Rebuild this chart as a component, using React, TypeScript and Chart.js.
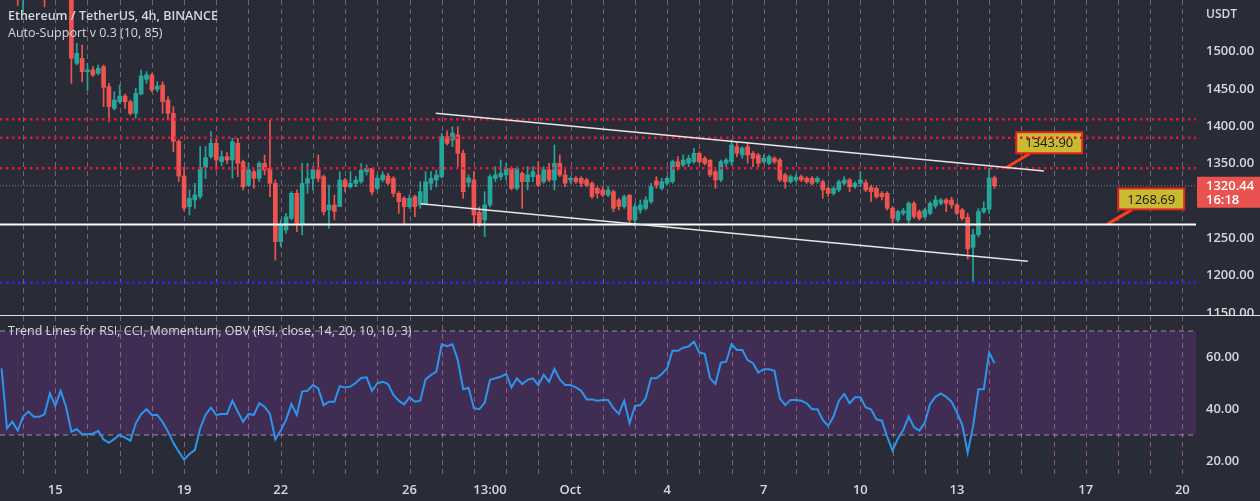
import React, { useEffect, useRef } from "react";
import { Chart, registerables } from "chart.js";

Chart.register(...registerables);

// ---------------- data (4h candles, index 0 = Sep 14 00:00) ----------------
const FIRST_INDEX = -4;

const opens = [
  1720, 1712, 1600, 1610,
  1590, 1605, 1615, 1605, 1610, 1600,
  1640, 1618, 1645, 1600, 1484.4, 1491,
  1473.2, 1475.5, 1471, 1479.9, 1453.1, 1424.1,
  1433, 1440.6, 1433, 1417.4, 1443.3, 1463,
  1468.8, 1449.6, 1455.4, 1435.3, 1417.4, 1380,
  1333.5, 1292.5, 1301.4, 1306, 1345, 1359.4,
  1377.3, 1352.7, 1359.4, 1355, 1377.3, 1352.7,
  1321.5, 1339.3, 1330.4, 1350.5, 1343.8, 1323.7,
  1245.6, 1261.2, 1276.8, 1310.3, 1270.1, 1323.7,
  1330, 1341.6, 1332.6, 1288, 1294.7, 1292.5,
  1328.2, 1319.2, 1323.7, 1326, 1339.3, 1343.8,
  1317, 1328.2, 1333.5, 1330.4, 1310.3, 1303.6,
  1292.5, 1305.8, 1294.7, 1296.9, 1323.7, 1328.2,
  1332.6, 1386.2, 1381.7, 1388.4, 1363.9, 1325,
  1328.2, 1285, 1274.6, 1294.7, 1330.4, 1332.6,
  1334.9, 1343.8, 1317, 1337.1, 1325.9, 1332.6,
  1334.9, 1325.9, 1341.6, 1328.2, 1350.5, 1334.9,
  1328.2, 1330.4, 1330.4, 1328.2, 1323.7, 1317,
  1314.8, 1308.1, 1312.5, 1301.4, 1292.5, 1308.1,
  1274.6, 1288, 1290.2, 1299.1, 1327, 1317,
  1323.7, 1325.9, 1352.7, 1348.3, 1350.5, 1352.7,
  1363.9, 1357.2, 1354.9, 1339.3, 1328.2, 1350.5,
  1352.7, 1372.8, 1361.6, 1372.8, 1363.9, 1361.6,
  1352.7, 1350.5, 1357.2, 1354.9, 1334.9, 1325.9,
  1328.2, 1332.6, 1330.4, 1330.4, 1325.9, 1325.9,
  1317, 1310.3, 1314.8, 1323.7, 1328.2, 1319.2,
  1323.7, 1324.6, 1318.4, 1317, 1310.3, 1310.3,
  1290.2, 1274.6, 1283.5, 1274.6, 1296.9, 1285.8,
  1279.1, 1283.5, 1293.4, 1296.9, 1301.4, 1301.4,
  1294.7, 1288, 1278, 1238, 1255, 1285.8,
  1289, 1331,
];

const highs = [
  1735, 1716, 1625, 1618,
  1612, 1625, 1622, 1618, 1618, 1650,
  1645, 1660, 1650, 1610, 1511.2, 1508.9,
  1484.4, 1479.9, 1482.2, 1482.2, 1457.6, 1446.4,
  1455.4, 1443.3, 1435.3, 1450.9, 1475.5, 1473.2,
  1471, 1459.8, 1459.8, 1439.7, 1426.4, 1382,
  1345, 1314.8, 1323.7, 1373, 1373, 1392.9,
  1384, 1367, 1365, 1384, 1384, 1354.9,
  1350.5, 1341.6, 1352.7, 1361.6, 1408.5, 1328.2,
  1274.6, 1283.5, 1312.5, 1314.8, 1350.5, 1350.5,
  1346, 1361.6, 1334.9, 1321.5, 1308.1, 1339.3,
  1330.4, 1339.3, 1332.6, 1350.5, 1348.3, 1343.8,
  1334.9, 1339.3, 1337.1, 1332.6, 1312.5, 1305.8,
  1308.1, 1308.1, 1325.9, 1339.3, 1339.3, 1341.6,
  1390.7, 1394, 1399.6, 1399.6, 1368.3, 1335,
  1339.3, 1292, 1312.5, 1335, 1346, 1354.9,
  1350.5, 1346, 1346, 1339.3, 1346, 1346,
  1352.7, 1346, 1350.5, 1375, 1361.6, 1341.6,
  1332.6, 1332.6, 1332.6, 1330.4, 1325.9, 1319.2,
  1319.2, 1319.2, 1314.8, 1303.6, 1308.1, 1308.1,
  1296.9, 1301.4, 1305.8, 1323.7, 1332.6, 1330.4,
  1332.6, 1354.9, 1359.4, 1361.6, 1361.6, 1370.6,
  1366.1, 1359.4, 1354.9, 1341.6, 1354.9, 1357.2,
  1381.7, 1379.5, 1372.8, 1377.3, 1366.1, 1363.9,
  1361.6, 1361.6, 1359.4, 1357.2, 1337.1, 1334.9,
  1334.9, 1334.9, 1332.6, 1332.6, 1332.6, 1328,
  1319, 1319, 1328.2, 1332.6, 1330.4, 1326,
  1339.3, 1328.2, 1321.5, 1319.2, 1312.5, 1312.5,
  1292.5, 1288, 1290.2, 1299.1, 1299.1, 1288,
  1290.2, 1299.1, 1306.8, 1303.6, 1303.6, 1305,
  1296.9, 1290.2, 1283.5, 1262, 1290, 1299.1,
  1343.9, 1333.5,
];

const lows = [
  1700, 1590, 1575, 1562,
  1553, 1595, 1596, 1592, 1560, 1595,
  1600, 1612, 1590, 1457.6, 1482.2, 1459.8,
  1448.7, 1466.5, 1468.8, 1426.4, 1406.3, 1421.9,
  1430.8, 1424.1, 1415.2, 1410.7, 1442, 1457.6,
  1446.4, 1446.4, 1417.4, 1408.5, 1366.1, 1326,
  1287, 1281.3, 1290.2, 1303, 1330, 1357.2,
  1341.6, 1347, 1350, 1330.4, 1332.6, 1314.8,
  1319.2, 1317, 1326, 1334.9, 1305.8, 1221,
  1238.9, 1256.7, 1274.6, 1259, 1254.5, 1310.3,
  1314.8, 1326, 1281.3, 1263.4, 1274.6, 1292.5,
  1312.5, 1317, 1319.2, 1323.7, 1334.9, 1308.1,
  1314.8, 1326, 1321.5, 1305.8, 1283.5, 1270.1,
  1290.2, 1279, 1290.2, 1294.7, 1314.8, 1319,
  1330.4, 1375, 1372.8, 1346, 1303.6, 1319,
  1267.9, 1266, 1252.3, 1292, 1326, 1328.2,
  1328.2, 1314.8, 1314.8, 1290.2, 1314.8, 1326,
  1319.2, 1323.7, 1325.9, 1314.8, 1332.6, 1319.2,
  1323.7, 1323.7, 1319.2, 1319.2, 1303.6, 1303.6,
  1305.8, 1305.8, 1285.8, 1288, 1290.2, 1270.1,
  1265.7, 1283.5, 1288, 1296.9, 1317, 1314.8,
  1321.5, 1323.7, 1341.6, 1346, 1346, 1350.5,
  1350.5, 1348.3, 1332.6, 1317, 1325.9, 1346,
  1348.3, 1359.4, 1357.2, 1350.5, 1346, 1346,
  1350.5, 1348.3, 1350, 1325.9, 1317, 1323.7,
  1326, 1326, 1323.7, 1321.5, 1323.7, 1303.6,
  1306, 1308, 1312.5, 1321.5, 1312.5, 1317,
  1319.2, 1312.5, 1299.1, 1303.6, 1301.4, 1288,
  1270.1, 1272.4, 1281.3, 1270.1, 1276.8, 1274.6,
  1276.8, 1281.3, 1290.2, 1294.7, 1285.8, 1290.2,
  1281.3, 1274.6, 1222, 1190, 1252, 1283.5,
  1283.5, 1317,
];

const closes = [
  1712, 1600, 1610, 1590,
  1605, 1615, 1605, 1610, 1600, 1640,
  1618, 1645, 1600, 1491.1, 1497.8, 1473.2,
  1475.5, 1468.8, 1477.7, 1452.2, 1426.4, 1435.3,
  1440.6, 1433, 1417.4, 1444.2, 1467.4, 1468.8,
  1448.7, 1454, 1433, 1417.4, 1380, 1333.5,
  1290.6, 1303.6, 1308.1, 1345, 1358, 1377.3,
  1355, 1359.4, 1355, 1379.5, 1350.5, 1319.2,
  1342, 1330.4, 1350.5, 1341.6, 1323.7, 1245.6,
  1267.9, 1279, 1310.3, 1270.1, 1323.7, 1330,
  1342, 1330.4, 1285.8, 1294.7, 1286, 1328.2,
  1319.2, 1323.7, 1328.2, 1341.6, 1343.8, 1312,
  1330.4, 1334.9, 1323.7, 1310.3, 1299.1, 1292.5,
  1303.6, 1292.5, 1312.5, 1325.9, 1330.4, 1334.9,
  1386.2, 1377.3, 1390.7, 1363.9, 1312.5, 1331,
  1281.3, 1270, 1294.7, 1332.6, 1334.9, 1337.1,
  1343.8, 1317, 1343.8, 1325.9, 1334.9, 1339.3,
  1321.5, 1341.6, 1328.2, 1350.5, 1334.9, 1323.7,
  1330.4, 1325.9, 1323.7, 1321.5, 1305.8, 1310.3,
  1308.1, 1314.8, 1290.2, 1292.5, 1305.8, 1274.6,
  1292.5, 1294.7, 1301.4, 1319.2, 1321.5, 1325.9,
  1330.4, 1352.7, 1346, 1354.9, 1357.2, 1363.9,
  1352.7, 1350.5, 1334.9, 1328.2, 1352.7, 1354.9,
  1375, 1363.9, 1370.6, 1361.6, 1357.2, 1350.5,
  1357.2, 1359.4, 1352.7, 1328.2, 1325.9, 1332.6,
  1332, 1328.2, 1325.9, 1323.7, 1330.4, 1314.8,
  1310.3, 1317, 1325.9, 1328.2, 1319.2, 1323.7,
  1328.2, 1314.8, 1312.5, 1305.8, 1305.8, 1290.2,
  1276.8, 1285.8, 1287.1, 1296.9, 1279.1, 1276.8,
  1288, 1296.9, 1301.4, 1301.4, 1296.9, 1294.7,
  1283.5, 1276.8, 1236, 1255, 1286, 1290.2,
  1331, 1320.44,
];

const rsiValues = [
  55.6, 32.6, 35.1, 31.7,
  37.1, 39, 37, 37, 38, 46,
  41.2, 47, 40.9, 31.3, 32.2, 30.3,
  30.3, 30.5, 31.6, 28.3, 27, 28.5,
  30, 29, 27.8, 34.5, 38, 39.9,
  37.7, 37.7, 35, 31.3, 27, 23.6,
  20.6, 22.7, 24.2, 32.6, 37.7, 40.5,
  37.7, 38.1, 38.1, 43.2, 39, 35.1,
  38.1, 37.7, 42.2, 40.9, 38.1, 28.3,
  31.7, 35.8, 41.9, 37.7, 46.7, 47,
  49.2, 47.9, 41.5, 42.8, 42.8, 48.8,
  48.3, 48.6, 50.1, 51.9, 52.2, 47,
  49.9, 50.5, 49.6, 45.4, 43.2, 41.8,
  44.5, 42.8, 43.2, 51.4, 53.1, 54.4,
  64.9, 64.2, 64.9, 58.8, 47.6, 48.2,
  40.3, 39.9, 42.4, 51.2, 51.8, 52.4,
  53.5, 48.3, 51.8, 49.6, 51.2, 51.8,
  49.2, 53.1, 50.5, 55.4, 51.4, 49.2,
  49.2, 48.3, 47, 43.7, 43.7, 43.2,
  43.5, 43.5, 40.3, 38.1, 43.2, 34.5,
  41.2, 41.5, 44.1, 51.8, 51.8, 53.5,
  55.6, 62.4, 62.4, 63.6, 64, 65.9,
  61.7, 61.2, 51.8, 49.6, 57.8, 58.2,
  64.9, 62.7, 62.7, 58.8, 57.6, 54,
  55.3, 55.3, 54.7, 44.1, 41.5, 43.5,
  43.5, 43.2, 42.2, 39.9, 39.9, 35.8,
  33.5, 37.1, 43.2, 45.8, 42.2, 44.5,
  44.5, 40.6, 39.9, 36, 35.5, 29.4,
  24, 28.7, 31.9, 37.1, 33, 31.7,
  34.7, 41.9, 44.7, 46, 44.7, 42.8,
  38.6, 33.8, 23.2, 33.2, 47.6, 47.6,
  61.7, 57.6,
];

const priceTicks = [1150, 1200, 1250, 1300, 1350, 1400, 1450, 1500];
const rsiTicks = [20, 40, 60];
const dayTickIndex = [
  0, 6, 12, 18, 24, 30, 36, 42, 48, 54, 60, 66, 72, 78, 84, 90, 96, 102, 108,
  114, 120, 126, 132, 138, 144, 150, 156, 162, 168, 174, 180, 186, 192, 198,
  204, 210, 216,
];
const xLabelIndex = [6, 30, 48, 72, 87, 102, 120, 138, 156, 174, 198, 216];
const xLabelText = ["15", "19", "22", "26", "13:00", "Oct", "4", "7", "10", "13", "17", "20"];

const resistanceLevels = [1409.5, 1384.8, 1343.9];
const supportLevel = 1268.69;
const lowerLevel = 1190.6;
const lastPrice = 1320.44;
const countdownText = "16:18";
const upperTrendX = [76.9, 190.2];
const upperTrendY = [1417.5, 1340.2];
const lowerTrendX = [74.1, 187.2];
const lowerTrendY = [1296.4, 1219.3];
const calloutIndex = [183, 202];
const calloutPrice = [1343.9, 1268.69];
const calloutText = ["1343.90", "1268.69"];
const rsiUpperBand = 70;
const rsiLowerBand = 30;

// ---------------- view settings ----------------
const X_MIN = -4.3;
const X_MAX = 218.54;
const Y_MIN = 1147.35;
const Y_MAX = 1569.2;
const RSI_MIN = 13.85;
const RSI_MAX = 75.77;

const BG = "#292c37";
const TEXT = "#d6d8de";
const UP = "#26a69a";
const DOWN = "#ef5350";
const GRID_MAIN = "rgba(140,128,142,0.7)";
const GRID_RSI = "rgba(190,118,150,0.65)";
const FONT = '"Open Sans", "Noto Sans", sans-serif';

const span = (v: number) => [
  { x: X_MIN, y: v },
  { x: X_MAX, y: v },
];

// vertical dashed day-grid drawn through the x scale
const dayGridPlugin = (color: string) => ({
  id: "dayGrid",
  beforeDatasetsDraw(chart: any) {
    const { ctx, chartArea, scales } = chart;
    ctx.save();
    ctx.strokeStyle = color;
    ctx.lineWidth = 1;
    ctx.setLineDash([5, 4]);
    dayTickIndex.forEach((v) => {
      const px = Math.round(scales.x.getPixelForValue(v)) + 0.5;
      if (px < chartArea.left || px > chartArea.right) return;
      ctx.beginPath();
      ctx.moveTo(px, chartArea.top);
      ctx.lineTo(px, chartArea.bottom);
      ctx.stroke();
    });
    ctx.restore();
  },
});

function mainConfig(): any {
  const candleColors = opens.map((o, i) => (closes[i] >= o ? UP : DOWN));
  const bodies = opens.map((o, i) => ({ x: FIRST_INDEX + i, y: [o, closes[i]] }));
  const wicks = lows.map((l, i) => ({ x: FIRST_INDEX + i, y: [l, highs[i]] }));

  const levelSet = (v: number, color: string, width: number, dash: number[], order: number) => ({
    type: "line",
    data: span(v),
    borderColor: color,
    borderWidth: width,
    borderDash: dash,
    pointRadius: 0,
    fill: false,
    order,
  });

  const calloutPlugin = {
    id: "callouts",
    beforeDatasetsDraw(chart: any) {
      const { ctx, scales } = chart;
      calloutIndex.forEach((idx, k) => {
        const ax = scales.x.getPixelForValue(idx);
        const ay = scales.y.getPixelForValue(calloutPrice[k]);
        const bw = 66;
        const bh = 21;
        const bx = ax + 11;
        const by = ay - 36;
        ctx.save();
        ctx.strokeStyle = "#ff3d1f";
        ctx.lineWidth = 3;
        ctx.beginPath();
        ctx.moveTo(ax, ay);
        ctx.lineTo(bx + 14, by + bh);
        ctx.stroke();
        ctx.fillStyle = "#c9ba32";
        ctx.fillRect(bx, by, bw, bh);
        ctx.strokeStyle = "#e3241c";
        ctx.lineWidth = 2;
        ctx.strokeRect(bx, by, bw, bh);
        ctx.fillStyle = "#141414";
        ctx.font = `13px ${FONT}`;
        ctx.textAlign = "center";
        ctx.textBaseline = "middle";
        ctx.fillText(calloutText[k], bx + bw / 2, by + bh / 2 + 1);
        ctx.restore();
      });
    },
    afterDraw(chart: any) {
      const { ctx, scales, chartArea } = chart;
      const yp = scales.y.getPixelForValue(lastPrice);
      ctx.save();
      ctx.fillStyle = "#ea5250";
      ctx.fillRect(chartArea.right + 1, yp - 9, chart.width - chartArea.right - 1, 31);
      ctx.fillStyle = "#ffffff";
      ctx.font = `600 13px ${FONT}`;
      ctx.textAlign = "left";
      ctx.textBaseline = "middle";
      ctx.fillText(lastPrice.toFixed(2), chartArea.right + 10, yp + 0.5);
      ctx.fillText(countdownText, chartArea.right + 10, yp + 14.5);
      ctx.restore();
    },
  };

  return {
    type: "bar",
    data: {
      datasets: [
        {
          type: "line",
          data: upperTrendX.map((x, i) => ({ x, y: upperTrendY[i] })),
          borderColor: "#e6e6e6",
          borderWidth: 1.5,
          pointRadius: 0,
          order: 0,
        },
        {
          type: "line",
          data: lowerTrendX.map((x, i) => ({ x, y: lowerTrendY[i] })),
          borderColor: "#e6e6e6",
          borderWidth: 1.5,
          pointRadius: 0,
          order: 0,
        },
        ...resistanceLevels.map((v) => levelSet(v, "#e0163f", 2.5, [2.5, 3.5], 1)),
        levelSet(supportLevel, "#ffffff", 2, [], 1),
        levelSet(lowerLevel, "#2626f2", 2.5, [2.5, 3.5], 1),
        levelSet(lastPrice, "rgba(200,185,200,0.6)", 1, [1, 2], 2),
        {
          type: "bar",
          data: bodies,
          backgroundColor: candleColors,
          barThickness: 4,
          minBarLength: 1,
          grouped: false,
          borderWidth: 0,
          order: 8,
        },
        {
          type: "bar",
          data: wicks,
          backgroundColor: candleColors,
          barThickness: 1,
          grouped: false,
          borderWidth: 0,
          order: 9,
        },
      ],
    },
    options: {
      responsive: false,
      maintainAspectRatio: false,
      animation: false,
      devicePixelRatio: 1,
      events: [],
      layout: { padding: 0 },
      plugins: { legend: { display: false }, tooltip: { enabled: false } },
      scales: {
        x: {
          type: "linear",
          min: X_MIN,
          max: X_MAX,
          offset: false,
          afterBuildTicks: (s: any) => {
            s.ticks = dayTickIndex.map((v) => ({ value: v }));
          },
          ticks: { display: false },
          grid: { display: false, drawTicks: false, offset: false },
          border: { display: false },
          afterFit: (s: any) => {
            s.height = 0;
            s.paddingLeft = 0;
            s.paddingRight = 0;
          },
        },
        y: {
          type: "linear",
          position: "right",
          min: Y_MIN,
          max: Y_MAX,
          afterBuildTicks: (s: any) => {
            s.ticks = priceTicks.map((v) => ({ value: v }));
          },
          ticks: {
            color: TEXT,
            font: { family: FONT, size: 13, weight: "600" },
            padding: 10,
            autoSkip: false,
            callback: (v: any) => Number(v).toFixed(2),
          },
          grid: { display: false, drawTicks: false },
          border: { display: false },
          afterFit: (s: any) => {
            s.width = 64;
            s.paddingTop = 0;
            s.paddingBottom = 0;
          },
        },
      },
    },
    plugins: [dayGridPlugin(GRID_MAIN), calloutPlugin],
  };
}

function rsiConfig(): any {
  const rsiXTicks = [...dayTickIndex, 87].sort((a, b) => a - b);
  return {
    type: "line",
    data: {
      datasets: [
        {
          data: rsiValues.map((v, i) => ({ x: FIRST_INDEX + i, y: v })),
          borderColor: "#2d95ec",
          borderWidth: 2,
          pointRadius: 0,
          tension: 0,
          fill: false,
          order: 0,
        },
        {
          data: span(rsiUpperBand),
          borderColor: "rgba(190,190,200,0.7)",
          borderWidth: 1,
          borderDash: [5, 4],
          pointRadius: 0,
          fill: false,
          order: 1,
        },
        {
          data: span(rsiLowerBand),
          borderColor: "rgba(190,190,200,0.7)",
          borderWidth: 1,
          borderDash: [5, 4],
          pointRadius: 0,
          fill: "-1",
          backgroundColor: "rgba(128,52,170,0.26)",
          order: 2,
        },
      ],
    },
    options: {
      responsive: false,
      maintainAspectRatio: false,
      animation: false,
      devicePixelRatio: 1,
      events: [],
      layout: { padding: 0 },
      plugins: {
        legend: { display: false },
        tooltip: { enabled: false },
        filler: { drawTime: "beforeDraw" },
      },
      scales: {
        x: {
          type: "linear",
          min: X_MIN,
          max: X_MAX,
          offset: false,
          afterBuildTicks: (s: any) => {
            s.ticks = rsiXTicks.map((v) => ({ value: v }));
          },
          ticks: {
            color: TEXT,
            font: { family: FONT, size: 13, weight: "600" },
            padding: 5,
            autoSkip: false,
            maxRotation: 0,
            callback: (v: any) => {
              const k = xLabelIndex.indexOf(Number(v));
              return k >= 0 ? xLabelText[k] : "";
            },
          },
          grid: { display: false, drawTicks: false, offset: false },
          border: { display: false },
          afterFit: (s: any) => {
            s.height = 24;
            s.paddingLeft = 0;
            s.paddingRight = 0;
          },
        },
        y: {
          type: "linear",
          position: "right",
          min: RSI_MIN,
          max: RSI_MAX,
          afterBuildTicks: (s: any) => {
            s.ticks = rsiTicks.map((v) => ({ value: v }));
          },
          ticks: {
            color: TEXT,
            font: { family: FONT, size: 13, weight: "600" },
            padding: 10,
            autoSkip: false,
            callback: (v: any) => Number(v).toFixed(2),
          },
          grid: { display: false, drawTicks: false },
          border: { display: false },
          afterFit: (s: any) => {
            s.width = 64;
            s.paddingTop = 0;
            s.paddingBottom = 0;
          },
        },
      },
    },
    plugins: [dayGridPlugin(GRID_RSI)],
  };
}

export default function App() {
  const mainRef = useRef<HTMLCanvasElement>(null);
  const rsiRef = useRef<HTMLCanvasElement>(null);

  useEffect(() => {
    document.body.style.margin = "0";
    document.body.style.background = BG;
    const main = new Chart(mainRef.current as HTMLCanvasElement, mainConfig());
    const rsi = new Chart(rsiRef.current as HTMLCanvasElement, rsiConfig());
    return () => {
      main.destroy();
      rsi.destroy();
    };
  }, []);

  const textBase: React.CSSProperties = {
    position: "absolute",
    color: TEXT,
    fontFamily: FONT,
    whiteSpace: "nowrap",
    lineHeight: "16px",
  };

  return (
    <div style={{ position: "relative", width: 1260, height: 501, background: BG, overflow: "hidden" }}>
      <canvas
        ref={mainRef}
        width={1260}
        height={315}
        style={{ position: "absolute", left: 0, top: 0, width: 1260, height: 315 }}
      />
      <div style={{ position: "absolute", left: 0, top: 315, width: 1260, height: 1, background: "rgba(255,255,255,0.85)" }} />
      <canvas
        ref={rsiRef}
        width={1260}
        height={185}
        style={{ position: "absolute", left: 0, top: 316, width: 1260, height: 185 }}
      />
      <div style={{ ...textBase, left: 8, top: 8, fontSize: 12.5, fontWeight: 600 }}>
        Ethereum / TetherUS, 4h, BINANCE
      </div>
      <div style={{ ...textBase, left: 8, top: 25, fontSize: 12.5 }}>Auto-Support v 0.3 (10, 85)</div>
      <div style={{ ...textBase, left: 1206, top: 6, fontSize: 12, fontWeight: 600 }}>USDT</div>
      <div style={{ ...textBase, left: 8, top: 323, fontSize: 12.5 }}>
        Trend Lines for RSI, CCI, Momentum, OBV (RSI, close, 14, 20, 10, 10, 3)
      </div>
    </div>
  );
}
